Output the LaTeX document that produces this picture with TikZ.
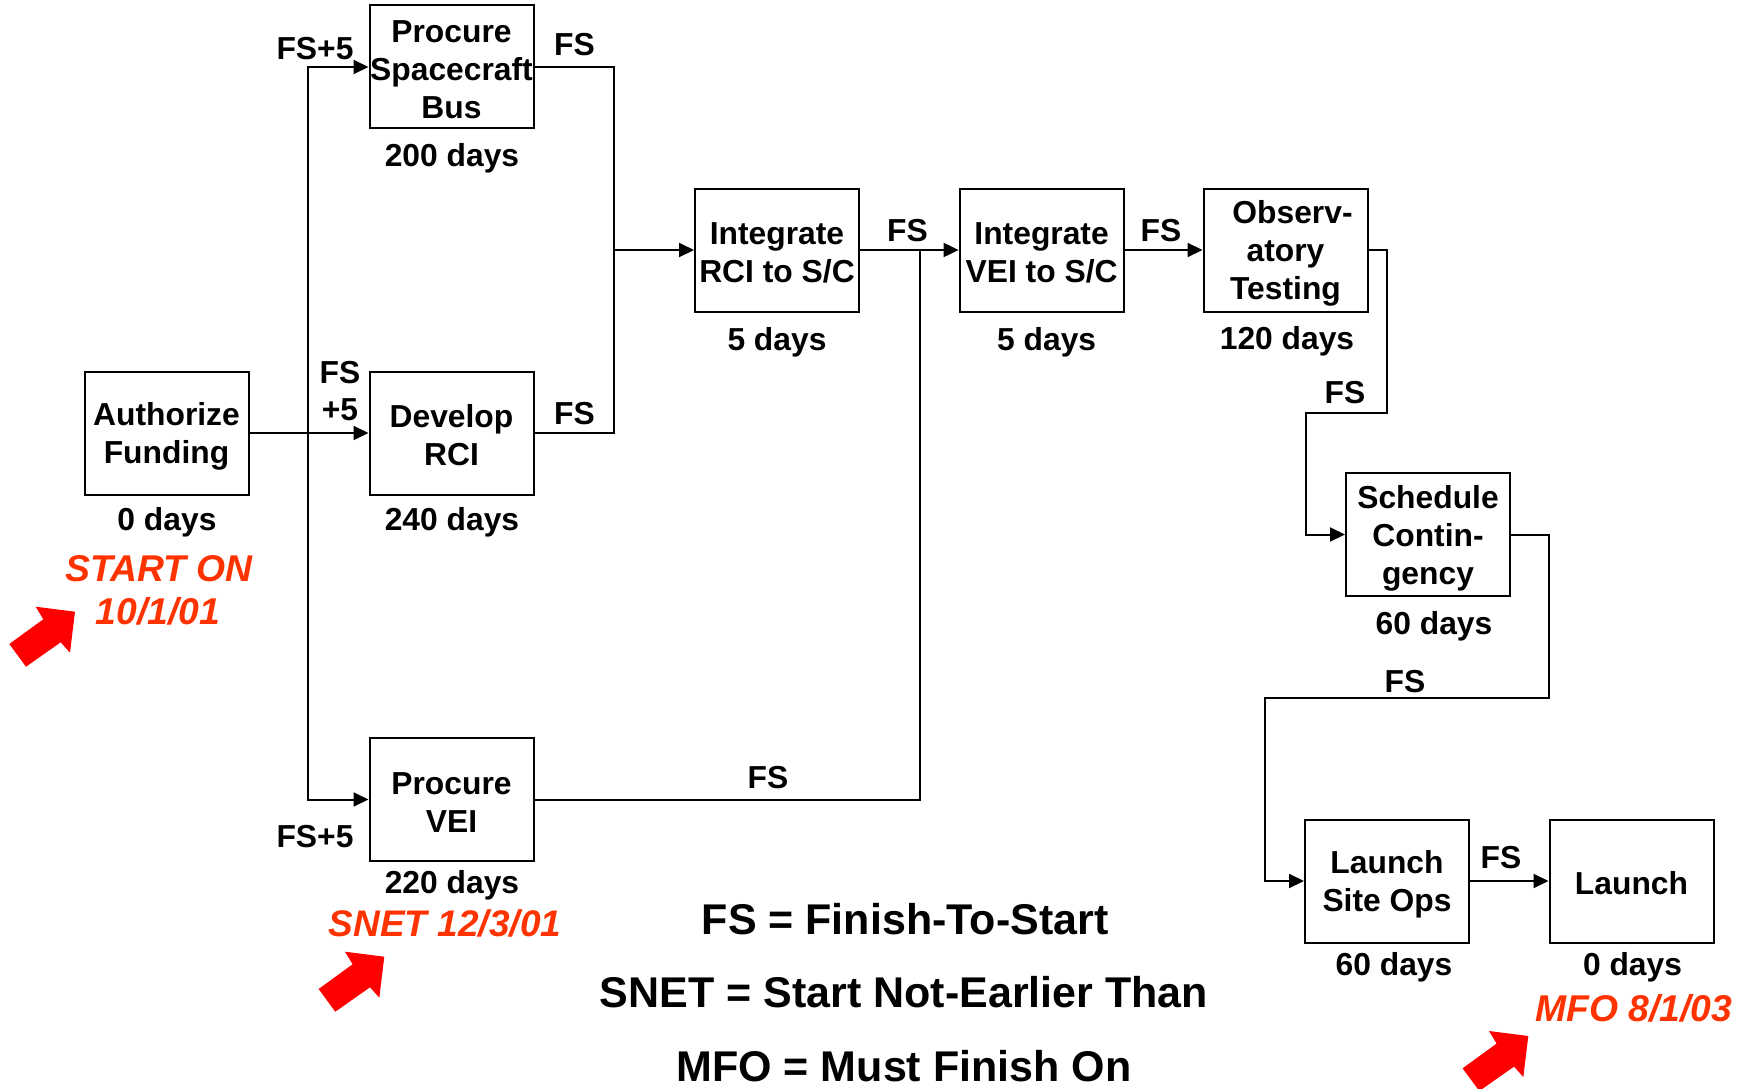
\documentclass[tikz,border=0pt]{standalone}
\usepackage{fontspec}
\setmainfont{Liberation Sans}
\usetikzlibrary{arrows.meta}
\definecolor{labred}{HTML}{FF3300}
\definecolor{arrowred}{HTML}{FF0000}
\newcommand\boxfont{\fontsize{31.8}{37.9}\selectfont\bfseries}
\newcommand\redfont{\fontsize{37.3}{44}\selectfont\bfseries\itshape}
\newcommand\snetfont{\fontsize{37}{44}\selectfont\bfseries\itshape}
\newcommand\legfont{\fontsize{43}{50}\selectfont\bfseries}
\newcommand\sx{\rule[-2.2pt]{0pt}{32.2pt}}
\newcommand\bigredarrow[1]{\fill[arrowred, shift={#1}] (0,0) -- (-39.3,-5) -- (-31.7,7.6) -- (-65.7,32.3) -- (-49,55) -- (-14.3,30.6) -- (-5,41) -- cycle;}
\tikzset{
  taskbox/.style={draw, line width=2pt, minimum width=164pt, minimum height=123pt, inner sep=0pt, align=center, font=\boxfont},
  lab/.style={inner sep=0pt, font=\boxfont, text height=22.7pt, text depth=0pt},
  lab2/.style={inner sep=0pt, font=\boxfont, align=center},
  redlab/.style={inner sep=0pt, font=\redfont, text=labred, text height=26.7pt, text depth=0pt},
  snetlab/.style={inner sep=0pt, font=\snetfont, text=labred, text height=26.5pt, text depth=0pt},
  leglab/.style={inner sep=0pt, font=\legfont, text height=30.8pt, text depth=0pt},
  conn/.style={line width=2pt},
  arr/.style={conn, -{Triangle[length=15pt,width=14pt]}},
}
\begin{document}
\begin{tikzpicture}[x=1pt,y=-1pt]
\useasboundingbox (0,0) rectangle (1746,1089);
\fill[white] (0,0) rectangle (1746,1089);

% task boxes
\node[taskbox] (auth)   at (166.5,433)  {\sx Authorize\\\sx Funding};
\node[taskbox] (psb)    at (451.5,67)   {\sx Procure\\\sx Spacecraft\\\sx Bus};
\node[taskbox] (rci)    at (451.5,433)  {\sx Develop\\\sx RCI};
\node[taskbox] (pvei)   at (451.5,799.5){\sx Procure\\\sx VEI};
\node[taskbox] (irci)   at (777,250)    {\sx Integrate\\\sx RCI to S/C};
\node[taskbox] (ivei)   at (1041.6,250) {\sx Integrate\\\sx VEI to S/C};
\node[taskbox] (obs)    at (1285.5,250) {\sx\hspace*{14pt}Observ-\\\sx atory\\\sx Testing};
\node[taskbox] (sched)  at (1428,534.5) {\sx Schedule\\\sx Contin-\\\sx gency};
\node[taskbox] (lso)    at (1387,881)   {\sx Launch\\\sx Site Ops};
\node[taskbox] (launch) at (1631.5,881) {\sx Launch};

% junction coordinates
\coordinate (t)  at (308,433);
\coordinate (j1) at (613.5,250);
\coordinate (j2) at (919.5,250);
\coordinate (c1) at (1387.4,413);
\coordinate (c2) at (1306,413);
\coordinate (c3) at (1549,698);
\coordinate (c4) at (1265,698);

% connectors
\draw[conn] (auth.east) -- (t);
\draw[arr] (t) |- (psb.west);
\draw[arr] (t) -- (rci.west);
\draw[arr] (t) |- (pvei.west);
\draw[conn] (psb.east) -| (j1) |- (rci.east);
\draw[arr] (j1) -- (irci.west);
\draw[arr] (irci.east) -- (ivei.west);
\draw[conn] (j2) |- (pvei.east);
\draw[arr] (ivei.east) -- (obs.west);
\draw[arr] (obs.east) -| (c1) -- (c2) |- (sched.west);
\draw[arr] (sched.east) -| (c3) -- (c4) |- (lso.west);
\draw[arr] (lso.east) -- (launch.west);

% relation labels
\node[lab] (l1) at (315,48) {FS+5};
\node[lab] (l2) at (574.5,44.5) {FS};
\node[lab2] (l3) at (340,391) {FS\\+5};
\node[lab] (l4) at (574.5,413) {FS};
\node[lab] (l5) at (315,836) {FS+5};
\node[lab] (l6) at (907.5,230) {FS};
\node[lab] (l7) at (1161,230) {FS};
\node[lab] (l8) at (768,777) {FS};
\node[lab] (l9) at (1345,392) {FS};
\node[lab] (l10) at (1405,681) {FS};
\node[lab] (l11) at (1501,857) {FS};

% durations
\node[lab] (d1) at (452,155) {200 days};
\node[lab] (d2) at (167,519) {0 days};
\node[lab] (d3) at (452,519) {240 days};
\node[lab] (d4) at (452,882) {220 days};
\node[lab] (d5) at (777,339) {5 days};
\node[lab] (d6) at (1046.7,339) {5 days};
\node[lab] (d7) at (1287,338) {120 days};
\node[lab] (d8) at (1434,623.5) {60 days};
\node[lab] (d9) at (1394,964) {60 days};
\node[lab] (d10) at (1632.5,964) {0 days};

% constraints
\node[redlab] (r1) at (159,568) {START ON};
\node[redlab] (r2) at (158,611.5) {10/1/01};
\node[snetlab] (r3) at (445,923.3) {SNET 12/3/01};
\node[redlab] (r4) at (1634,1008) {MFO 8/1/03};

\bigredarrow{(75,611.7)}
\bigredarrow{(384.3,956.7)}
\bigredarrow{(1528.3,1036)}

% legend
\node[leglab] (g1) at (905,919) {FS = Finish-To-Start};
\node[leglab] (g2) at (904,992.5) {SNET = Start Not-Earlier Than};
\node[leglab] (g3) at (904,1066) {MFO = Must Finish On};
\end{tikzpicture}
\end{document}
